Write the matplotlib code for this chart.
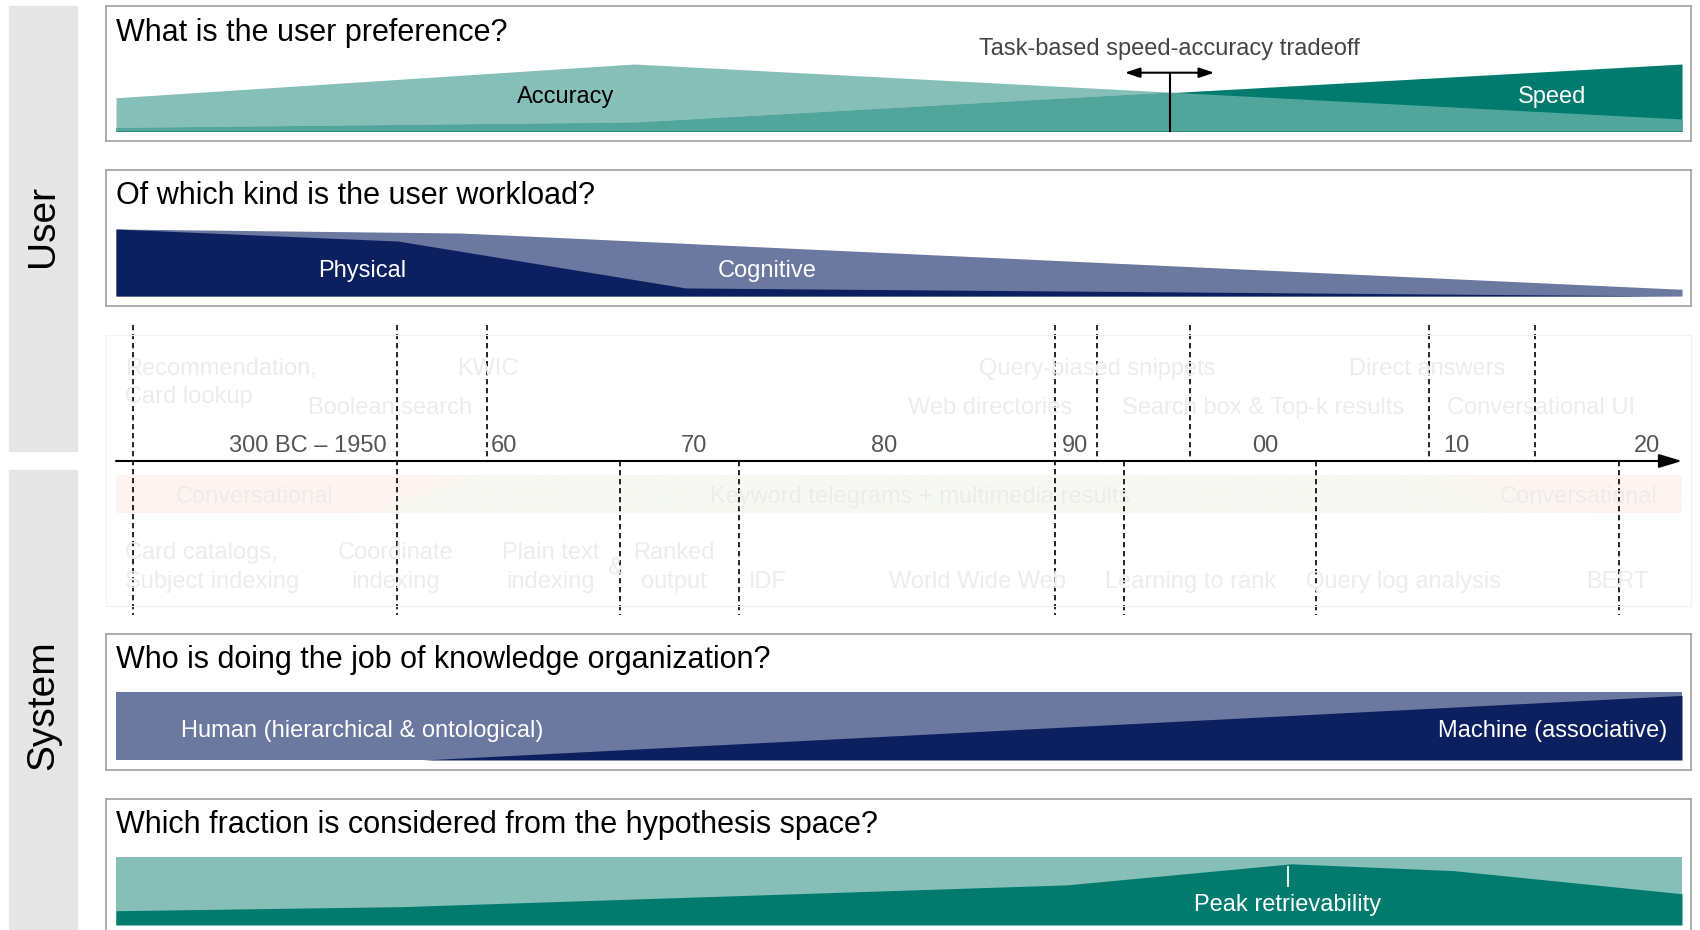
import matplotlib
matplotlib.use("Agg")
import matplotlib.pyplot as plt
import numpy as np

plt.rcParams['font.family'] = ['Liberation Sans', 'DejaVu Sans']

# timeline coordinate (years; the part before 1960 is compressed)
x_lo, x_hi = 1940.5, 2022.7

# panel 1: user preference
acc_x = [1940.5, 1967.7, 2022.7]
acc_y = [0.50, 1.00, 0.185]
spd_y = [0.05, 0.13, 1.00]
tradeoff_x = 1995.8

# panel 2: user workload
cog_x = [1940.5, 1958.6, 2022.7]
cog_y = [1.00, 0.94, 0.10]
phy_x = [1940.5, 1955.3, 1970.4, 2022.7]
phy_y = [1.00, 0.82, 0.12, 0.0]

# panel 3: knowledge organization
mach_x = [1940.5, 1956.6, 2022.7]
mach_y = [0.0, 0.0, 0.95]

# panel 4: hypothesis space
retr_x = [1940.5, 1955.5, 1990.4, 2002.2, 2010.7, 2022.7]
retr_y = [0.21, 0.27, 0.59, 0.90, 0.80, 0.46]
peak_x = 2002.0

# timeline
decades = [1960, 1970, 1980, 1990, 2000, 2010, 2020]
decade_labels = ["60", "70", "80", "90", "00", "10", "20"]
lines_full = [1941.4, 1955.25, 1989.8]
lines_top = [1960.0, 1992.0, 1996.9, 2009.4, 2015.0]
lines_bottom = [1966.96, 1973.2, 1993.4, 2003.5, 2019.4]
top_labels = [
    ("Recommendation,", 1940.97, 369, "left"),
    ("Card lookup", 1940.97, 397, "left"),
    ("KWIC", 1960.0, 369, "center"),
    ("Boolean search", 1954.9, 408, "center"),
    ("Query-biased snippets", 1992.0, 369, "center"),
    ("Direct answers", 2009.3, 369, "center"),
    ("Web directories", 1986.4, 408, "center"),
    ("Search box & Top-k results", 2000.7, 408, "center"),
    ("Conversational UI", 2015.3, 408, "center"),
]
band_labels = [
    ("Conversational", 1947.8),
    ("Keyword telegrams + multimedia results", 1982.7),
    ("Conversational", 2017.3),
]
bottom_labels = [
    ("Card catalogs,", 1940.97, 553, "left"),
    ("Subject indexing", 1940.97, 582, "left"),
    ("Coordinate", 1955.2, 553, "center"),
    ("indexing", 1955.2, 582, "center"),
    ("Plain text", 1963.3, 553, "center"),
    ("indexing", 1963.3, 582, "center"),
    ("&", 1966.7, 568, "center"),
    ("Ranked", 1969.8, 553, "center"),
    ("output", 1969.8, 582, "center"),
    ("IDF", 1973.7, 582, "left"),
    ("World Wide Web", 1985.7, 582, "center"),
    ("Learning to rank", 1996.9, 582, "center"),
    ("Query log analysis", 2008.1, 582, "center"),
    ("BERT", 2019.3, 582, "center"),
]

TEAL_L = "#86BFB8"
TEAL_M = "#52A59B"
TEAL_D = "#007B6E"
NAVY_L = "#6B78A0"
NAVY_D = "#0C1F5E"
FAINT = "#ECECEC"

W, H = 1700, 930
fig = plt.figure(figsize=(17, 9.3), dpi=100)
PXY = 19.05  # px per year


def px_axes(x0, y0, x1, y1):
    return fig.add_axes([x0 / W, 1 - y1 / H, (x1 - x0) / W, (y1 - y0) / H])


def panel(ytop, ybot, band_bot, title, band_h=67.5):
    ax = px_axes(106, ytop, 1691, ybot)
    ax.set_xlim(x_lo - 10 / PXY, x_hi + 9 / PXY)
    ax.set_ylim((band_bot - ybot) / band_h, (band_bot - ytop) / band_h)
    ax.set_xticks([])
    ax.set_yticks([])
    for s in ax.spines.values():
        s.set_color("#A0A0A0")
        s.set_linewidth(1.2)
    ax.annotate(title, xy=(0, 1), xycoords="axes fraction", xytext=(10, -26),
                textcoords="offset pixels", ha="left", va="center",
                fontsize=22, color="black")
    return ax


# side bars
for y0, y1, lab, yc in [(6, 451, "User", 226), (470, 935, "System", 705)]:
    fig.patches.append(plt.Rectangle((9 / W, 1 - y1 / H), 68 / W, (y1 - y0) / H,
                                     transform=fig.transFigure, color="#E6E6E6", zorder=0))
    fig.text(43 / W, 1 - yc / H, lab, rotation=90, ha="center", va="center",
             fontsize=28, color="black")

# panel 1
ax1 = panel(6.5, 141, 131.5, "What is the user preference?")
ax1.fill_between(acc_x, 0, acc_y, color=TEAL_L, lw=0)
p_spd = ax1.fill_between(acc_x, 0, spd_y, color=TEAL_D, lw=0)
p_ov = ax1.fill_between(acc_x, 0, acc_y, color=TEAL_M, lw=0)
p_ov.set_clip_path(p_spd.get_paths()[0], ax1.transData)
ax1.text(1964.1, 0.51, "Accuracy", ha="center", va="center", fontsize=17, color="black")
ax1.text(2015.9, 0.51, "Speed", ha="center", va="center", fontsize=17, color="white")
ax1.plot([tradeoff_x, tradeoff_x], [0, 0.871], color="black", lw=1.5)
ax1.annotate("", xy=(tradeoff_x - 2.35, 0.871), xytext=(tradeoff_x + 2.35, 0.871),
             arrowprops=dict(arrowstyle="<|-|>,head_length=0.9,head_width=0.3",
                             color="black", lw=1.5, mutation_scale=10, shrinkA=0, shrinkB=0))
ax1.text(tradeoff_x, 1.22, "Task-based speed-accuracy tradeoff", ha="center", va="center",
         fontsize=17, color="#444444")

# panel 2
ax2 = panel(170, 306, 296, "Of which kind is the user workload?", 67)
ax2.fill_between(cog_x, 0, cog_y, color=NAVY_L, lw=0)
ax2.fill_between(phy_x, 0, phy_y, color=NAVY_D, lw=0)
ax2.text(1953.4, 0.37, "Physical", ha="center", va="center", fontsize=17, color="white")
ax2.text(1974.7, 0.37, "Cognitive", ha="center", va="center", fontsize=17, color="white")

# panel 3
ax3 = panel(634, 770, 760, "Who is doing the job of knowledge organization?", 68)
ax3.fill_between([x_lo, x_hi], 0, 1, color=NAVY_L, lw=0)
ax3.fill_between(mach_x, 0, mach_y, color=NAVY_D, lw=0)
ax3.text(1953.4, 0.43, "Human (hierarchical & ontological)", ha="center", va="center",
         fontsize=17, color="white")
ax3.text(2015.9, 0.43, "Machine (associative)", ha="center", va="center",
         fontsize=17, color="white")

# panel 4
ax4 = panel(799, 935, 925, "Which fraction is considered from the hypothesis space?", 68)
ax4.fill_between([x_lo, x_hi], 0, 1, color=TEAL_L, lw=0)
ax4.fill_between(retr_x, 0, retr_y, color=TEAL_D, lw=0)
ax4.plot([peak_x, peak_x], [0.574, 0.857], color="white", lw=1.3)
ax4.text(peak_x, 0.29, "Peak retrievability", ha="center", va="center",
         fontsize=17, color="white")

# timeline
axt = px_axes(106, 335, 1691, 606)
axt.set_xticks([])
axt.set_yticks([])
for s in axt.spines.values():
    s.set_color("#F2F2F2")

# faint band with pink/green gradient
gx = np.linspace(x_lo, x_hi, 800)
gy = np.linspace(475, 513, 40)
GX, GY = np.meshgrid(gx, gy)
edge_l = 1958.6 - (GY - 475) / 38 * 4.3
wl = np.clip((GX - edge_l) / 2.5 + 0.5, 0, 1)
edge_r = 2008.0 + (GY - 475) / 38 * 3.0
wr = np.clip((GX - edge_r) / 7.0, 0, 1)
w = wl * (1 - wr)
pink = np.array([255, 243, 240]) / 255
green = np.array([246, 249, 242]) / 255
img = pink[None, None, :] * (1 - w[..., None]) + green[None, None, :] * w[..., None]
axt.imshow(img, extent=(x_lo, x_hi, 513, 475), aspect="auto", zorder=0)
axt.set_xlim(x_lo - 10 / PXY, x_hi + 9 / PXY)
axt.set_ylim(606, 335)

for lab, x, y, ha in top_labels:
    axt.text(x, y, lab, ha=ha, va="center", fontsize=17, color=FAINT)
for lab, x in band_labels:
    axt.text(x, 497, lab, ha="center", va="center", fontsize=17, color=FAINT)
for lab, x, y, ha in bottom_labels:
    axt.text(x, y, lab, ha=ha, va="center", fontsize=17, color=FAINT)

dash = (0, (3.2, 2.2))
for x in lines_full:
    axt.plot([x, x], [325, 615], color="black", lw=1.2, ls=dash, clip_on=False)
for x in lines_top:
    axt.plot([x, x], [325, 461], color="black", lw=1.2, ls=dash, clip_on=False)
for x in lines_bottom:
    axt.plot([x, x], [461, 615], color="black", lw=1.2, ls=dash, clip_on=False)

axt.annotate("", xy=(x_hi, 461), xytext=(x_lo, 461),
             arrowprops=dict(arrowstyle="-|>,head_length=1.0,head_width=0.3",
                             color="black", lw=1.5, mutation_scale=14, shrinkA=0, shrinkB=0))

axt.text(1954.7, 446, "300 BC \u2013 1950", ha="right", va="center", fontsize=17, color="#555555")
for d, lab in zip(decades, decade_labels):
    axt.text(d + 0.15, 446, lab, ha="left", va="center", fontsize=17, color="#555555")

fig.savefig("out.png", dpi=100)
